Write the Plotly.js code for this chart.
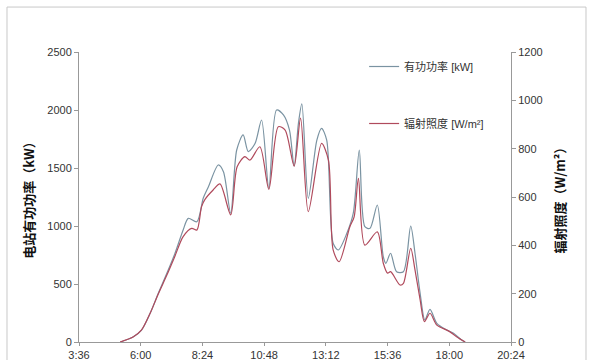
<!DOCTYPE html>
<html>
<head>
<meta charset="utf-8">
<script src="https://cdn.plot.ly/plotly-3.0.1.min.js"></script>
<style>html,body{margin:0;padding:0;background:#fff;}#chart{width:600px;height:360px;}</style>
</head>
<body>
<div id="chart"></div>
<script>
// ---- data ----
const powerTimes = ["5:12","5:43","6:02","6:22","6:41","7:01","7:20","7:39","7:51","8:11",
  "8:26","8:38","9:01","9:13","9:30","9:44","9:59","10:11","10:27","10:42",
  "10:59","11:17","11:33","11:47","11:58","12:08","12:16","12:31","12:51","13:02",
  "13:14","13:29","13:41","14:01","14:16","14:30","14:43","14:55","15:12","15:26",
  "15:32","15:43","15:57","16:13","16:30","16:40","16:52","17:03","17:15","17:31",
  "17:54","18:10","18:29","18:37"];
const powerKW = [0,46,103,247,420,592,765,966,1066,1037,
  1241,1339,1526,1468,1110,1655,1785,1641,1713,1914,
  1325,2000,1957,1828,1517,1885,2052,1239,1741,1842,
  1741,851,793,937,1110,1655,994,980,1181,735,
  678,765,606,606,1000,765,420,190,282,161,
  103,75,17,0];
const irrTimes = ["5:12","5:43","6:02","6:22","6:41","7:01","7:20","7:39","7:59","8:11",
  "8:22","8:30","8:49","9:05","9:30","9:45","10:03","10:15","10:38","10:59",
  "11:21","11:37","11:58","12:13","12:31","13:02","13:18","13:29","13:43","14:08",
  "14:18","14:28","14:43","15:12","15:26","15:36","15:43","16:05","16:13","16:30",
  "16:40","16:52","17:02","17:15","17:31","17:58","18:17","18:37"];
const irrWm2 = [0,22,50,119,199,277,356,436,470,463,
  560,590,629,654,526,725,767,753,808,632,
  891,877,728,926,539,822,753,381,332,477,
  518,677,401,456,326,285,291,236,243,388,
  298,174,84,119,70,46,22,0];
const tickLabels = ["3:36","6:00","8:24","10:48","13:12","15:36","18:00","20:24"];
const seriesNames = ["有功功率 [kW]", "辐射照度 [W/m²]"];
const leftTitle = "电站有功功率（kW）";
const rightTitle = "辐射照度（W/m²）";

function toHours(s){ const p = s.split(":"); return (+p[0]) + (+p[1])/60; }

const FONT = "Liberation Sans, Arial, Noto Sans CJK SC, sans-serif";

const traces = [
  {x: powerTimes.map(toHours), y: powerKW, name: seriesNames[0], type: "scatter", mode: "lines",
   line: {color: "#7a93a2", width: 1.2, shape: "spline", smoothing: 0.8}, legendgroup: "a", yaxis: "y"},
  {x: irrTimes.map(toHours), y: irrWm2, name: seriesNames[1], type: "scatter", mode: "lines",
   line: {color: "#b04a5c", width: 1.2, shape: "spline", smoothing: 0.8}, legendgroup: "b", yaxis: "y2"}
];

const layout = {
  width: 600, height: 360,
  margin: {l: 79, r: 89, t: 52, b: 18},
  paper_bgcolor: "#fff", plot_bgcolor: "#fff",
  font: {family: FONT, size: 11, color: "#333"},
  showlegend: true,
  legend: {x: 0.66, y: 1.0, xanchor: "left", yanchor: "top", bgcolor: "rgba(0,0,0,0)",
           tracegroupgap: 38, traceorder: "grouped", font: {size: 11, color: "#333", family: FONT}},
  xaxis: {range: [3.6, 20.4], tickvals: tickLabels.map(toHours), ticktext: tickLabels,
          showgrid: false, zeroline: false, showline: true, linecolor: "#999", linewidth: 1,
          ticks: "outside", ticklen: 3, tickcolor: "#999", tickfont: {size: 11, color: "#333"}, fixedrange: true},
  yaxis: {range: [0, 2500], dtick: 500, showgrid: false, zeroline: false, showline: true,
          linecolor: "#999", linewidth: 1, ticks: "outside", ticklen: 4, tickcolor: "#999",
          tickfont: {size: 11, color: "#333"},
          title: {text: leftTitle, font: {size: 13, color: "#111", family: "Noto Sans CJK SC, sans-serif", weight: "bold"}, standoff: 9}},
  yaxis2: {range: [0, 1200], dtick: 200, overlaying: "y", side: "right", showgrid: false, zeroline: false,
           showline: true, linecolor: "#999", linewidth: 1, ticks: "outside", ticklen: 4, tickcolor: "#999",
           tickfont: {size: 11, color: "#333"},
           title: {text: rightTitle, font: {size: 13, color: "#111", family: "Noto Sans CJK SC, sans-serif", weight: "bold"}, standoff: 14}},
  shapes: [{type: "rect", xref: "paper", yref: "paper", x0: -0.1667, x1: 1.1736, y0: -0.2, y1: 1.155,
            line: {color: "#c8c8c8", width: 1}, fillcolor: "rgba(0,0,0,0)", layer: "below"}]
};

Plotly.newPlot("chart", traces, layout, {displayModeBar: false, staticPlot: true});
</script>
</body>
</html>
